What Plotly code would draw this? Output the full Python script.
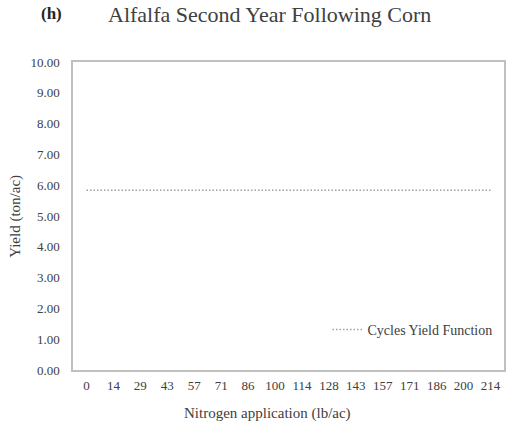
import plotly.graph_objects as go

nitrogen = ["0", "14", "29", "43", "57", "71", "86", "100", "114", "128", "143", "157", "171", "186", "200", "214"]
yield_vals = [5.84] * 16
y_ticks = [0, 1, 2, 3, 4, 5, 6, 7, 8, 9, 10]

FONT = "Liberation Serif, Times New Roman, serif"
TXT = "#404040"

fig = go.Figure()
fig.add_trace(go.Scatter(
    x=nitrogen, y=yield_vals, mode="lines", name="Cycles Yield Function",
    line=dict(color="#a0a0a0", width=1.5, dash="1.5px,2px"),
))

fig.update_layout(
    width=508, height=426,
    margin=dict(l=73, r=2, t=62, b=56),
    paper_bgcolor="white", plot_bgcolor="white",
    font=dict(family=FONT, color=TXT, size=13),
    showlegend=True,
    legend=dict(x=0.985, y=0.13, xanchor="right", yanchor="middle",
                bgcolor="rgba(0,0,0,0)", font=dict(size=14, color=TXT),
                itemwidth=30),
    xaxis=dict(type="category", range=[-0.5, 15.5], showgrid=False, zeroline=False,
               showline=True, linecolor="#c0c0c0", linewidth=1.5, mirror=True,
               ticks="outside", ticklen=3, tickcolor="rgba(0,0,0,0)",
               tickfont=dict(size=13, color=TXT)),
    yaxis=dict(range=[0, 10], tickvals=y_ticks, tickformat=".2f",
               showgrid=False, zeroline=False,
               showline=True, linecolor="#c0c0c0", linewidth=1.5, mirror=True,
               ticks="outside", ticklen=9, tickcolor="rgba(0,0,0,0)",
               tickfont=dict(size=13, color=TXT)),
)

fig.add_annotation(text="<b>(h)</b>", xref="paper", yref="paper", x=-0.05, y=1.158,
                   xanchor="center", yanchor="middle",
                   showarrow=False, font=dict(size=17, color="#262626"))
fig.add_annotation(text="Alfalfa Second Year Following Corn", xref="paper", yref="paper",
                   x=0.455, y=1.154, xanchor="center", yanchor="middle",
                   showarrow=False, font=dict(size=22, color=TXT))
fig.add_annotation(text="Nitrogen application (lb/ac)", xref="paper", yref="paper",
                   x=0.452, y=-0.14, xanchor="center", yanchor="middle",
                   showarrow=False, font=dict(size=15, color=TXT))
fig.add_annotation(text="Yield (ton/ac)", xref="paper", yref="paper", textangle=-90,
                   x=-0.135, y=0.5, xanchor="center", yanchor="middle",
                   showarrow=False, font=dict(size=15, color=TXT))

fig.write_html("out.html")
